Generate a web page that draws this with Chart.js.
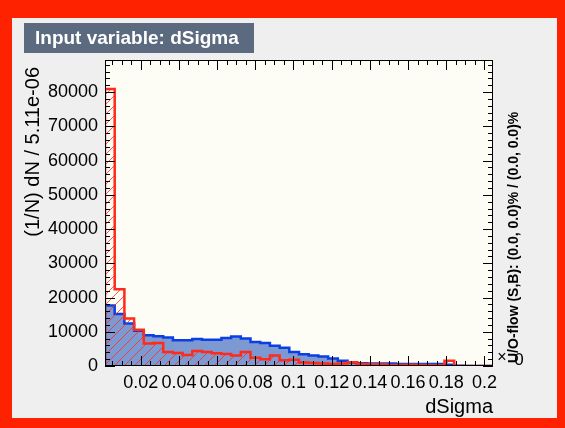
<!DOCTYPE html>
<html>
<head>
<meta charset="utf-8">
<script src="https://cdn.jsdelivr.net/npm/chart.js@4/dist/chart.umd.min.js"></script>
<style>
  html, body { margin: 0; padding: 0; background: #ff2200; }
  canvas { display: block; }
</style>
</head>
<body>
<canvas id="chart" width="565" height="428"></canvas>
<script>
// Input variable dSigma, 40 bins, normalised (1/N) dN
const xMin = 0.0013;
const binWidth = 0.00508;

const signal = [17700, 15200, 12400, 10300, 9000, 8700, 8300, 7500, 7500, 7900,
                7700, 7700, 8200, 8600, 8000, 7000, 6700, 5900, 5300, 4100,
                3400, 3100, 2800, 2200, 1500, 1000, 800, 700, 700, 700,
                600, 600, 600, 600, 600, 400, 100, 0, 0, 0];

const background = [80900, 22400, 13900, 10600, 6600, 6700, 4100, 3800, 3200, 4400,
                    4100, 3700, 3500, 3100, 4100, 2400, 2000, 3100, 1700, 1800,
                    1000, 900, 700, 600, 700, 1100, 600, 500, 500, 300,
                    300, 400, 300, 200, 200, 1500, 0, 0, 0, 0];

const xTicks = [0.02, 0.04, 0.06, 0.08, 0.1, 0.12, 0.14, 0.16, 0.18, 0.2];
const yTicks = [0, 10000, 20000, 30000, 40000, 50000, 60000, 70000, 80000];

const yMax = 89400;
const FONT = '"Liberation Sans", Arial, Helvetica, sans-serif';

// histogram outline as step points (bin edges)
function stepPoints(vals) {
  const pts = [{ x: xMin, y: 0 }];
  vals.forEach(function (v, i) {
    pts.push({ x: xMin + i * binWidth, y: v });
  });
  const xEnd = xMin + vals.length * binWidth;
  pts.push({ x: xEnd, y: vals[vals.length - 1] });
  pts.push({ x: xEnd, y: 0 });
  return pts;
}

const canvas = document.getElementById("chart");
const ctx = canvas.getContext("2d");

// red "/" hatch like ROOT fill style 3554
function hatchPattern() {
  const c = document.createElement("canvas");
  c.width = 10; c.height = 10;
  const g = c.getContext("2d");
  g.strokeStyle = "rgba(255,40,20,0.85)";
  g.lineWidth = 0.9;
  g.beginPath();
  g.moveTo(0, 10); g.lineTo(10, 0);
  g.moveTo(-1, 1); g.lineTo(1, -1);
  g.moveTo(9, 11); g.lineTo(11, 9);
  g.stroke();
  return ctx.createPattern(c, "repeat");
}

// frame, inward ticks and ROOT-style texts
const rootStyle = {
  id: "rootStyle",
  beforeDraw(chart) {
    const c = chart.ctx;
    const a = chart.chartArea;
    c.save();
    c.fillStyle = "#ff2200";
    c.fillRect(0, 0, chart.width, chart.height);
    c.fillStyle = "#efefef";
    c.fillRect(12, 18, 545, 400);
    c.fillStyle = "#fdfdf6";
    c.fillRect(a.left, a.top, a.right - a.left, a.bottom - a.top);
    // title box
    c.fillStyle = "#5b6a7f";
    c.fillRect(24, 23, 230, 30);
    c.fillStyle = "#ffffff";
    c.font = "bold 19px " + FONT;
    c.textBaseline = "middle";
    c.fillText("Input variable: dSigma", 35, 38.5);
    c.restore();
  },
  afterDatasetsDraw(chart) {
    const c = chart.ctx;
    const a = chart.chartArea;
    const xs = chart.scales.x;
    const ys = chart.scales.y;
    c.save();
    c.strokeStyle = "#000";
    c.lineWidth = 1;
    c.beginPath();
    // x ticks every 0.005, long at 0.02
    for (let k = 1; k <= 40; k++) {
      const v = k * 0.005;
      if (v < xs.min || v > xs.max) continue;
      const px = Math.round(xs.getPixelForValue(v)) + 0.5;
      const len = (k % 4 === 0) ? 10 : 5;
      c.moveTo(px, a.bottom); c.lineTo(px, a.bottom - len);
      c.moveTo(px, a.top); c.lineTo(px, a.top + len);
    }
    // y ticks every 2000, long at 10000
    for (let k = 0; k <= 44; k++) {
      const v = k * 2000;
      if (v > ys.max) continue;
      const py = Math.round(ys.getPixelForValue(v)) + 0.5;
      const len = (k % 5 === 0) ? 10 : 5;
      c.moveTo(a.left, py); c.lineTo(a.left + len, py);
      c.moveTo(a.right, py); c.lineTo(a.right - len, py);
    }
    c.stroke();
    c.strokeRect(Math.round(a.left) + 0.5, Math.round(a.top) + 0.5,
                 Math.round(a.right - a.left) - 1, Math.round(a.bottom - a.top) - 1);

    c.fillStyle = "#000";
    // y axis title
    c.save();
    c.translate(33, 67);
    c.rotate(-Math.PI / 2);
    c.font = "20px " + FONT;
    c.textAlign = "right";
    c.textBaseline = "middle";
    c.fillText("(1/N) dN / 5.11e-06", 0, 0);
    c.restore();
    // x axis title
    c.font = "20px " + FONT;
    c.textAlign = "right";
    c.textBaseline = "alphabetic";
    c.fillText("dSigma", 493, 413);
    // under/overflow note
    c.save();
    c.translate(514, 363);
    c.rotate(-Math.PI / 2);
    c.font = "bold 14px " + FONT;
    c.textAlign = "left";
    c.textBaseline = "middle";
    c.fillText("U/O-flow (S,B): (0.0, 0.0)% / (0.0, 0.0)%", 0, 0);
    c.restore();
    c.font = "16px " + FONT;
    c.textAlign = "center";
    c.textBaseline = "middle";
    c.fillText("\u00d7", 502, 358);
    c.font = "17px " + FONT;
    c.fillText("0", 519, 360);
    c.restore();
  }
};

new Chart(ctx, {
  type: "line",
  data: {
    datasets: [
      {
        label: "Background",
        data: stepPoints(background),
        stepped: true,
        borderColor: "#ff2a1a",
        borderWidth: 2.5,
        backgroundColor: hatchPattern(),
        fill: "origin",
        pointRadius: 0,
        order: 0
      },
      {
        label: "Signal",
        data: stepPoints(signal),
        stepped: true,
        borderColor: "#0a3fe6",
        borderWidth: 2.5,
        backgroundColor: "#7d99d1",
        fill: "origin",
        pointRadius: 0,
        order: 1
      }
    ]
  },
  options: {
    responsive: false,
    animation: false,
    events: [],
    layout: { padding: { left: 0, top: 60, right: 72, bottom: 0 } },
    plugins: {
      legend: { display: false },
      tooltip: { enabled: false }
    },
    scales: {
      x: {
        type: "linear",
        min: xMin,
        max: xMin + 40 * binWidth,
        afterFit: function (s) { s.height = 62; },
        afterBuildTicks: function (s) { s.ticks = xTicks.map(v => ({ value: v })); },
        grid: { display: false, drawTicks: false },
        border: { display: false },
        ticks: {
          autoSkip: false,
          maxRotation: 0,
          padding: 6,
          color: "#000",
          font: { family: FONT, size: 18 },
          callback: function (v) { return String(+v.toFixed(2)); }
        }
      },
      y: {
        type: "linear",
        min: 0,
        max: yMax,
        afterFit: function (s) { s.width = 105; },
        afterBuildTicks: function (s) { s.ticks = yTicks.map(v => ({ value: v })); },
        grid: { display: false, drawTicks: false },
        border: { display: false },
        ticks: {
          padding: 7,
          color: "#000",
          font: { family: FONT, size: 18 },
          callback: function (v) { return String(v); }
        }
      }
    }
  },
  plugins: [rootStyle]
});
</script>
</body>
</html>
